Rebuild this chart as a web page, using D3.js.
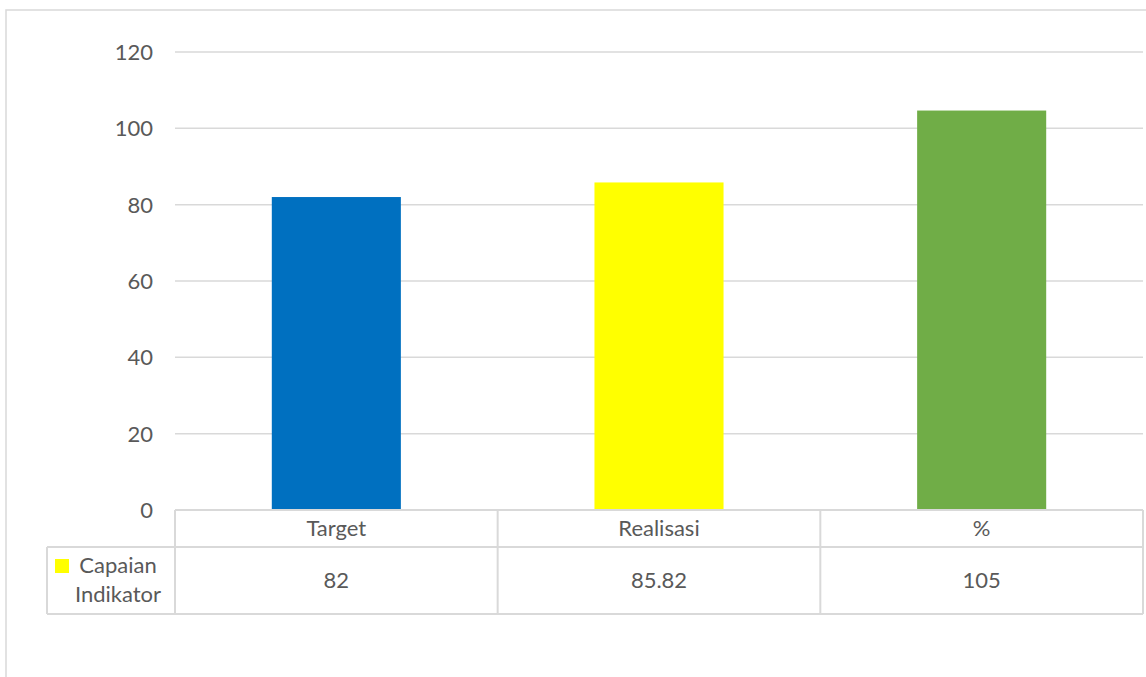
<!DOCTYPE html>
<html><head><meta charset="utf-8">
<script src="https://cdn.jsdelivr.net/npm/d3@7"></script>
<style>body{margin:0;background:#fff}svg{display:block}text{font-family:Lato,"Open Sans",sans-serif;fill:#595959}</style>
</head><body>
<script>
const categories = ["Target", "Realisasi", "%"];
const values = [82, 85.82, 104.66];
const tableLabels = ["82", "85.82", "105"];
const barColors = ["#0070C0", "#FFFF00", "#70AD47"];
const seriesName = ["Capaian", "Indikator"];
const yTicks = [0, 20, 40, 60, 80, 100, 120];

(function () {
const W = 1146, H = 677, FS = 22;
const svg = d3.select("body").append("svg").attr("width", W).attr("height", H);
const grid = "#d9d9d9";

svg.append("rect").attr("x", 6).attr("y", 10).attr("width", W + 10).attr("height", H + 10)
  .attr("fill", "none").attr("stroke", grid).attr("stroke-width", 1.5);

const mLeft = 175, mRight = 1143, mTop = 52, mBottom = 510;
const x = d3.scaleBand().domain(categories).range([mLeft, mRight]).paddingInner(0).paddingOuter(0);
const y = d3.scaleLinear().domain([0, 120]).range([mBottom, mTop]);

svg.append("g").selectAll("line").data(yTicks.filter(d => d > 0)).join("line")
  .attr("x1", mLeft).attr("x2", mRight).attr("y1", d => y(d)).attr("y2", d => y(d))
  .attr("stroke", grid).attr("stroke-width", 1.5);

svg.append("g").selectAll("text").data(yTicks).join("text")
  .attr("x", 153).attr("y", d => y(d)).attr("dy", "0.36em").attr("text-anchor", "end")
  .attr("font-size", FS).text(d => d);

const bw = x.bandwidth() * 0.4;
svg.append("g").selectAll("rect").data(categories).join("rect")
  .attr("x", d => x(d) + (x.bandwidth() - bw) / 2).attr("width", bw)
  .attr("y", (d, i) => y(values[i])).attr("height", (d, i) => y(0) - y(values[i]))
  .attr("fill", (d, i) => barColors[i]);

const rowTop = mBottom, rowMid = 547, rowBot = 614, legLeft = 47;
const tl = svg.append("g").attr("stroke", grid).attr("stroke-width", 2).attr("fill", "none");
tl.append("line").attr("x1", mLeft).attr("x2", mRight).attr("y1", rowTop).attr("y2", rowTop);
tl.append("line").attr("x1", legLeft).attr("x2", mRight).attr("y1", rowMid).attr("y2", rowMid);
tl.append("line").attr("x1", legLeft).attr("x2", mRight).attr("y1", rowBot).attr("y2", rowBot);
tl.append("line").attr("x1", legLeft).attr("x2", legLeft).attr("y1", rowMid).attr("y2", rowBot);
const bounds = categories.map(c => x(c)).concat([mRight]);
tl.selectAll("line.v").data(bounds).join("line").attr("class", "v")
  .attr("x1", d => d).attr("x2", d => d).attr("y1", rowTop).attr("y2", rowBot);

svg.append("g").selectAll("text").data(categories).join("text")
  .attr("x", d => x(d) + x.bandwidth() / 2).attr("y", 536).attr("text-anchor", "middle")
  .attr("font-size", FS).text(d => d);
svg.append("g").selectAll("text").data(tableLabels).join("text")
  .attr("x", (d, i) => x(categories[i]) + x.bandwidth() / 2).attr("y", 588).attr("text-anchor", "middle")
  .attr("font-size", FS).text(d => d);

svg.append("rect").attr("x", 55).attr("y", 559).attr("width", 14).attr("height", 14).attr("fill", barColors[1]);
svg.append("text").attr("x", 118).attr("y", 573).attr("text-anchor", "middle").attr("font-size", FS).text(seriesName[0]);
svg.append("text").attr("x", 118).attr("y", 602).attr("text-anchor", "middle").attr("font-size", FS).text(seriesName[1]);
})();
</script>
</body></html>
